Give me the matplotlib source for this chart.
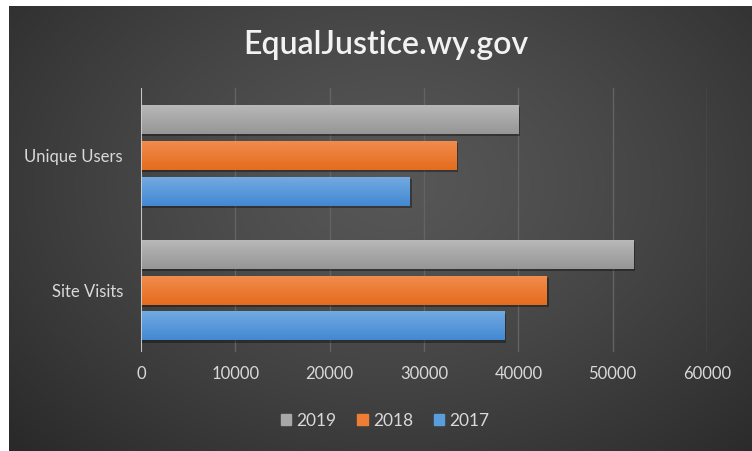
import matplotlib
matplotlib.use("Agg")
import matplotlib.pyplot as plt
import numpy as np
from matplotlib.patches import Rectangle

plt.rcParams['font.family'] = ['Lato', 'DejaVu Sans']

# dados
categorias = ["Site Visits", "Unique Users"]
anos = ["2017", "2018", "2019"]
v2017 = [38500, 28500]
v2018 = [43000, 33400]
v2019 = [52200, 40000]
valores = [v2017, v2018, v2019]
cores_topo = ["#72aae2", "#f28b4e", "#b8b8b8"]
cores_base = ["#4388d2", "#e46c1c", "#969696"]

fig = plt.figure(figsize=(7.52, 4.51), dpi=100)
fig.patch.set_facecolor("white")

# fundo com gradiente radial
bg = fig.add_axes([9/752, 0, 1 - 9/752, 1 - 6/451])
bg.set_axis_off()
yy, xx = np.mgrid[0:1:300j, 0:1:500j]
r = np.sqrt(((xx - 0.52) / 0.75) ** 2 + ((yy - 0.6) / 0.9) ** 2)
r = np.clip(r, 0, 1)
c0, c1 = 0.34, 0.15
img = c0 + (c1 - c0) * r ** 1.3
bg.imshow(np.dstack([img, img, img]), extent=[0, 1, 0, 1], aspect='auto', origin='lower')
bg.set_xlim(0, 1)
bg.set_ylim(0, 1)

ax = fig.add_axes([141/752, 99/451, (707-141)/752, (352-88)/451])
ax.patch.set_alpha(0)

altura = 0.215
passo = 0.267
y = np.arange(len(categorias))
for i, (vals, ct, cb) in enumerate(zip(valores, cores_topo, cores_base)):
    pos = y + (i - 1) * passo
    bars = ax.barh(pos, vals, height=altura, color="none", edgecolor="none", zorder=3)
    for b in bars:
        x0, y0, w, h = b.get_x(), b.get_y(), b.get_width(), b.get_height()
        # sombra
        ax.add_patch(Rectangle((x0, y0 - 0.015), w + 200, h, color="black", alpha=0.35, zorder=2, lw=0))
        g = np.linspace(0, 1, 50).reshape(-1, 1)
        ct_rgb = np.array(matplotlib.colors.to_rgb(ct))
        cb_rgb = np.array(matplotlib.colors.to_rgb(cb))
        grad = cb_rgb[None, None, :] * (1 - g[..., None]) + ct_rgb[None, None, :] * g[..., None]
        ax.imshow(grad, extent=[x0, x0 + w, y0, y0 + h], aspect='auto', origin='lower',
                  interpolation='nearest', zorder=3)

ax.set_xlim(0, 60000)
ax.set_ylim(-0.46, 1.5)
ax.set_xticks(np.arange(0, 60001, 10000))
ax.set_yticks(y)
ax.set_yticklabels(categorias)
ax.grid(axis='x', color="#636363", lw=1, zorder=0)
ax.axvline(0, color="#d0d0d0", lw=1.3, zorder=4)
for s in ax.spines.values():
    s.set_visible(False)
ax.tick_params(length=0, colors="#d9d9d9", labelsize=12)
ax.tick_params(axis='x', pad=10)
ax.tick_params(axis='y', pad=13)

fig.text(0.513, 0.9, "EqualJustice.wy.gov", color="#f2f2f2", fontsize=23,
         fontweight='semibold', ha='center', va='center')

handles = [Rectangle((0, 0), 1, 1, color=c) for c in ["#a8a8a8", "#f07d35", "#5a9ddc"]]
fig.legend(handles, ["2019", "2018", "2017"], loc='center', bbox_to_anchor=(0.512, 0.067),
           ncol=3, frameon=False, fontsize=12.5, labelcolor="#d9d9d9",
           handlelength=0.6, handleheight=0.6, handletextpad=0.3, columnspacing=1.2)

fig.savefig("out.png", dpi=100, facecolor=fig.get_facecolor())
